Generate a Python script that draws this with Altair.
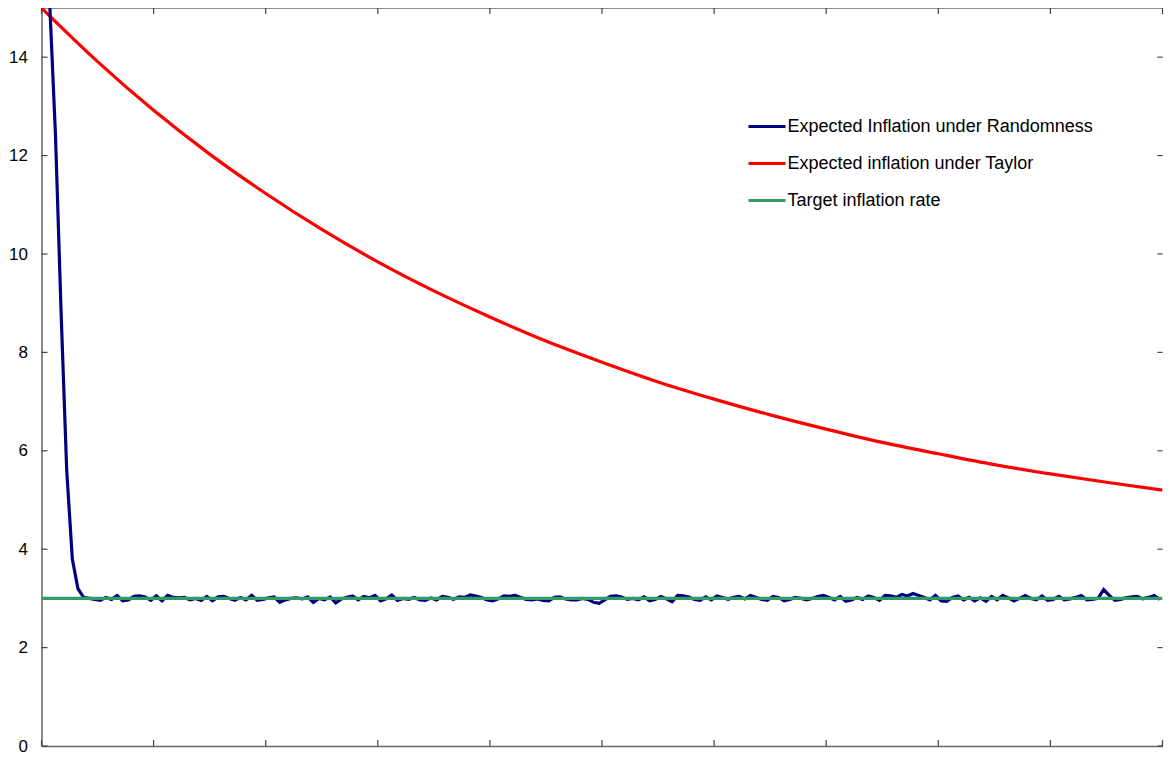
import altair as alt
import pandas as pd

# ---------------- data ----------------
series_names = [
    "Expected Inflation under Randomness",
    "Expected inflation under Taylor",
    "Target inflation rate",
]

# Randomness: periods 1..199 (points sit at category centres)
blue_head = [15.0, 12.4, 8.8, 5.6, 3.8, 3.2, 3.02]
blue_noise = [
    3.00, 2.98, 2.96, 3.02, 2.98, 3.06, 2.95, 2.97, 3.04, 3.05, 3.03, 2.96, 3.05, 2.95, 3.06, 3.02,
    3.01, 3.02, 2.97, 3.00, 2.96, 3.04, 2.95, 3.03, 3.04, 3.00, 2.96, 3.02, 2.97, 3.06, 2.96, 2.98,
    3.01, 3.03, 2.92, 2.97, 3.00, 3.01, 2.99, 3.03, 2.92, 3.00, 2.97, 3.03, 2.91, 2.99, 3.02, 3.05,
    2.97, 3.04, 3.01, 3.06, 2.95, 2.99, 3.07, 2.96, 3.00, 2.98, 3.02, 2.97, 2.96, 3.01, 2.97, 3.04,
    3.02, 2.98, 3.03, 3.02, 3.07, 3.05, 3.02, 2.97, 2.95, 2.99, 3.05, 3.04, 3.06, 3.02, 2.98, 2.97,
    2.99, 2.96, 2.95, 3.02, 3.03, 2.99, 2.97, 2.97, 3.00, 2.98, 2.92, 2.90, 2.97, 3.04, 3.05, 3.03,
    2.98, 3.00, 2.97, 3.03, 2.95, 2.98, 3.04, 2.99, 2.93, 3.06, 3.05, 3.03, 2.98, 2.96, 3.03, 2.97,
    3.05, 3.02, 2.98, 3.02, 3.04, 2.99, 3.06, 3.02, 2.98, 2.96, 3.04, 3.02, 2.95, 2.98, 3.02, 3.00,
    2.97, 3.00, 3.04, 3.06, 3.02, 2.97, 3.04, 2.94, 2.97, 3.02, 2.98, 3.05, 3.02, 2.96, 3.06, 3.05,
    3.02, 3.08, 3.05, 3.10, 3.06, 3.02, 2.97, 3.06, 2.95, 2.94, 3.02, 3.05, 2.97, 3.02, 2.95, 3.01,
    2.94, 3.04, 2.97, 3.06, 3.01, 2.95, 3.00, 3.06, 3.00, 2.97, 3.05, 2.96, 2.98, 3.04, 2.97, 2.99,
    3.02, 3.06, 2.97, 2.98, 3.00, 3.18, 3.06, 2.96, 2.98, 3.01, 3.03, 3.04, 2.99, 3.02, 3.06, 2.98,
]
blue_values = blue_head + blue_noise
blue_periods = [p + 0.5 for p in range(1, 1 + len(blue_values))]

# Taylor: read every 10 periods
red_periods = [0, 10, 20, 30, 40, 50, 60, 70, 80, 90, 100,
               110, 120, 130, 140, 150, 160, 170, 180, 190, 200]
red_values = [15.0, 13.91, 12.92, 12.03, 11.23, 10.50, 9.84, 9.25, 8.72, 8.23, 7.80,
              7.40, 7.05, 6.73, 6.44, 6.17, 5.94, 5.72, 5.53, 5.36, 5.20]

# Target rate
green_periods = [0, 200]
green_values = [3.0, 3.0]

y_tick_values = [0, 2, 4, 6, 8, 10, 12, 14]
x_tick_values = [0, 20, 40, 60, 80, 100, 120, 140, 160, 180, 200]

colors = ["#000080", "#FF0000", "#339966"]
widths = [3.2, 3.2, 1.3]

# ---------------- frame ----------------
W, H = 1121, 738
FONT = "Liberation Sans"

rows_lin = []
for p, v in zip(blue_periods, blue_values):
    rows_lin.append({"period": p, "value": v, "series": series_names[0]})
for p, v in zip(green_periods, green_values):
    rows_lin.append({"period": p, "value": v, "series": series_names[2]})
df_lin = pd.DataFrame(rows_lin)
df_red = pd.DataFrame({"period": red_periods, "value": red_values,
                       "series": [series_names[1]] * len(red_values)})

xscale = alt.Scale(domain=[0, 200], nice=False, zero=False)
yscale = alt.Scale(domain=[0, 15], nice=False)
cscale = alt.Scale(domain=series_names, range=colors)
wscale = alt.Scale(domain=series_names, range=widths)

legend = alt.Legend(
    title=None, orient="none", legendX=705, legendY=98,
    symbolType="stroke", symbolSize=1369, labelFont=FONT, labelFontSize=18,
    labelColor="black", labelOffset=0, padding=0, rowPadding=7,
    labelLimit=600,
)

x_enc = alt.X("period:Q", scale=xscale,
              axis=alt.Axis(labels=False, ticks=False, grid=False, title=None,
                            domainColor="#666666", domainWidth=1.5))
y_enc = alt.Y("value:Q", scale=yscale,
              axis=alt.Axis(values=y_tick_values, grid=False, title=None, ticks=False,
                            tickSize=0, labelPadding=14, labelFont=FONT,
                            labelFontSize=17, labelColor="black",
                            domainColor="#666666", domainWidth=1.5))

lines_lin = alt.Chart(df_lin).mark_line(clip=True).encode(
    x=x_enc, y=y_enc,
    color=alt.Color("series:N", scale=cscale, legend=legend),
    strokeWidth=alt.StrokeWidth("series:N", scale=wscale, legend=legend),
    order=alt.Order("period:Q"),
)
line_red = alt.Chart(df_red).mark_line(clip=True, interpolate="monotone").encode(
    x=x_enc, y=y_enc,
    color=alt.Color("series:N", scale=cscale, legend=legend),
    strokeWidth=alt.StrokeWidth("series:N", scale=wscale, legend=legend),
    order=alt.Order("period:Q"),
)

ytick_df = pd.DataFrame({"v": y_tick_values})
xtick_df = pd.DataFrame({"v": x_tick_values})
tick_color = "#444444"

left_ticks = alt.Chart(ytick_df).mark_rule(color=tick_color, strokeWidth=1.2).encode(
    y=alt.Y("v:Q", scale=yscale), x=alt.value(0), x2=alt.value(6))
right_ticks = alt.Chart(ytick_df).mark_rule(color=tick_color, strokeWidth=1.2).encode(
    y=alt.Y("v:Q", scale=yscale), x=alt.value(W - 5), x2=alt.value(W))
bottom_ticks = alt.Chart(xtick_df).mark_rule(color=tick_color, strokeWidth=1.2).encode(
    x=alt.X("v:Q", scale=xscale), y=alt.value(H), y2=alt.value(H - 6))
top_ticks = alt.Chart(xtick_df).mark_rule(color=tick_color, strokeWidth=1.2).encode(
    x=alt.X("v:Q", scale=xscale), y=alt.value(0), y2=alt.value(6))
top_line = alt.Chart(pd.DataFrame({"v": [0]})).mark_rule(
    color="#666666", strokeWidth=1.5).encode(
    y=alt.value(0), x=alt.value(0), x2=alt.value(W))

chart = alt.layer(
    top_line, left_ticks, right_ticks, bottom_ticks, top_ticks, line_red, lines_lin
).properties(
    width=W, height=H,
    autosize=alt.AutoSizeParams(type="none"),
    padding={"left": 33.5, "top": 0, "right": 1, "bottom": 8},
    background="white",
).configure_view(stroke=None)

chart.save("out.html", embed_options={"renderer": "svg", "actions": False})
